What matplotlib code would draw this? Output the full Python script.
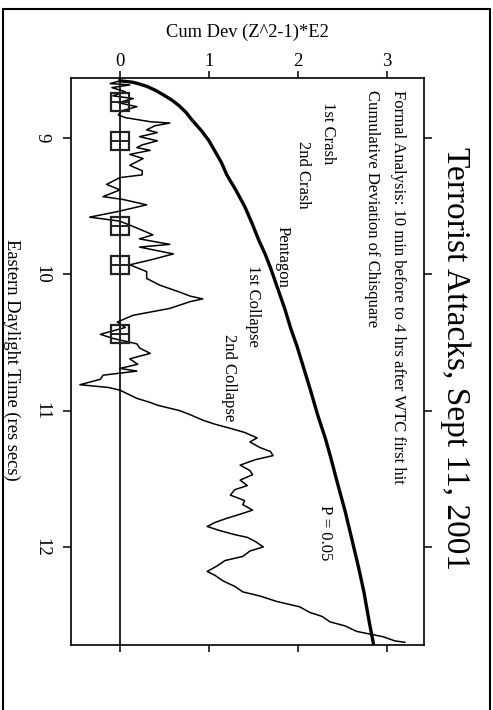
import matplotlib
matplotlib.use('Agg')
import matplotlib.pyplot as plt
from matplotlib.patches import Rectangle

plt.rcParams['font.family'] = ['Liberation Serif', 'DejaVu Serif']

# Cumulative deviation of chisquare (time in hours EDT)
trace_hours = [8.58, 8.60, 8.61, 8.63, 8.66, 8.69, 8.71, 8.74, 8.77, 8.80,
               8.83, 8.85, 8.88, 8.89, 8.91, 8.94, 8.96, 8.99, 9.02, 9.05,
               9.07, 9.09, 9.12, 9.15, 9.18, 9.20, 9.24, 9.27, 9.29, 9.34,
               9.38, 9.43, 9.45, 9.49, 9.54, 9.58, 9.61, 9.66, 9.71, 9.74,
               9.78, 9.80, 9.85, 9.89, 9.93, 9.98, 10.03, 10.08, 10.13, 10.16,
               10.18, 10.20, 10.25, 10.30, 10.35, 10.39, 10.44, 10.47, 10.51, 10.54,
               10.58, 10.62, 10.66, 10.69, 10.71, 10.74, 10.77, 10.81, 10.83, 10.85,
               10.91, 10.94, 10.96, 11.00, 11.03, 11.07, 11.10, 11.13, 11.16, 11.20,
               11.23, 11.27, 11.30, 11.33, 11.36, 11.40, 11.44, 11.47, 11.51, 11.55,
               11.58, 11.62, 11.66, 11.69, 11.73, 11.76, 11.79, 11.82, 11.85, 11.88,
               11.91, 11.93, 11.96, 12.00, 12.03, 12.07, 12.10, 12.14, 12.18, 12.21,
               12.25, 12.29, 12.33, 12.36, 12.40, 12.44, 12.48, 12.51, 12.55, 12.58,
               12.62, 12.64, 12.66, 12.69, 12.70]
trace_cumdev = [0.00, -0.11, 0.11, -0.09, 0.06, -0.08, 0.15, -0.02, 0.19, 0.02,
                -0.02, 0.06, 0.34, 0.56, 0.39, 0.30, 0.42, 0.22, 0.42, 0.25,
                0.19, 0.34, 0.11, 0.26, 0.17, 0.11, 0.25, 0.25, 0.00, -0.15,
                0.00, -0.19, 0.03, 0.30, -0.03, -0.34, 0.00, 0.19, 0.37, 0.22,
                0.56, 0.22, 0.60, 0.37, 0.11, 0.30, 0.30, 0.45, 0.67, 0.79,
                0.93, 0.79, 0.56, 0.15, -0.03, 0.06, -0.22, -0.08, 0.19, 0.22,
                0.34, 0.11, 0.20, 0.00, 0.19, -0.19, -0.22, -0.45, -0.13, 0.00,
                0.19, 0.34, 0.42, 0.67, 0.79, 0.93, 1.07, 1.24, 1.40, 1.54,
                1.46, 1.57, 1.69, 1.72, 1.52, 1.35, 1.46, 1.49, 1.35, 1.43,
                1.29, 1.24, 1.40, 1.38, 1.49, 1.35, 1.20, 1.07, 0.98, 1.12,
                1.29, 1.43, 1.52, 1.61, 1.46, 1.38, 1.18, 1.09, 0.98, 1.07,
                1.16, 1.29, 1.38, 1.57, 1.76, 2.02, 2.13, 2.27, 2.36, 2.53,
                2.66, 2.81, 2.96, 3.09, 3.20]

# P = 0.05 envelope
p05_hours = [8.58, 8.59, 8.60, 8.62, 8.65, 8.68, 8.72, 8.76, 8.81, 8.86, 8.95,
             9.02, 9.10, 9.18, 9.27, 9.38, 9.50, 9.62, 9.75, 9.85, 9.95,
             10.10, 10.25, 10.40, 10.53, 10.70, 10.85, 11.03, 11.21, 11.35, 11.50,
             11.62, 11.74, 11.93, 12.15, 12.33, 12.55, 12.72]
p05_cumdev = [0.00, 0.14, 0.20, 0.30, 0.40, 0.48, 0.58, 0.66, 0.74, 0.80, 0.92,
              1.00, 1.07, 1.14, 1.20, 1.30, 1.40, 1.48, 1.56, 1.63, 1.69,
              1.77, 1.85, 1.92, 1.99, 2.07, 2.14, 2.22, 2.31, 2.37, 2.43,
              2.48, 2.53, 2.60, 2.68, 2.74, 2.80, 2.85]

event_hours = [8.735, 9.02, 9.645, 9.93, 10.44]
event_names = ['1st Crash', '2nd Crash', 'Pentagon', '1st Collapse', '2nd Collapse']

time_ticks = [9, 10, 11, 12]
dev_ticks = [0, 1, 2, 3]

fig = plt.figure(figsize=(4.93, 7.10), dpi=100)
ax = fig.add_axes([0.144, 0.0915, 0.716, 0.7985])

ax.axvline(0, color='black', lw=1.2, zorder=1)
ax.plot(trace_cumdev, trace_hours, color='black', lw=1.1, zorder=3)
ax.plot(p05_cumdev, p05_hours, color='black', lw=2.4, zorder=3)
ax.plot([0] * len(event_hours), event_hours, linestyle='none', marker='s',
        markersize=13, markerfacecolor='none', markeredgecolor='#222222',
        markeredgewidth=1.6, zorder=4)
ax.plot([0] * len(event_hours), event_hours, linestyle='none', marker='+',
        markersize=13, markeredgecolor='#222222', markeredgewidth=1.4, zorder=4)

ax.set_xlim(-0.55, 3.415)
ax.set_ylim(12.72, 8.56)

ax.set_xticks(dev_ticks)
ax.set_xticklabels([str(v) for v in dev_ticks], fontsize=13.5)
ax.set_yticks(time_ticks)
ax.set_yticklabels([str(v) for v in time_ticks], fontsize=13.5, rotation=270,
                   va='center')
ax.tick_params(axis='x', top=True, bottom=True, labeltop=True, labelbottom=False,
               direction='out', length=5, width=1.1, pad=1)
ax.tick_params(axis='y', left=True, right=True, labelleft=True, labelright=False,
               direction='out', length=6, width=1.1, pad=9)
for s in ax.spines.values():
    s.set_linewidth(1.2)

# event labels, each starting at its event time
label_x = [2.34, 2.06, 1.83, 1.49, 1.22]
for name, t, lx in zip(event_names, event_hours, label_x):
    ax.text(lx, t, name, rotation=270, ha='center', va='top', fontsize=12)

ax.text(3.12, 8.65, 'Formal Analysis: 10 min before to 4 hrs after WTC first hit',
        rotation=270, ha='center', va='top', fontsize=12)
ax.text(2.83, 8.65, 'Cumulative Deviation of Chisquare',
        rotation=270, ha='center', va='top', fontsize=12)
ax.text(2.30, 11.69, 'P = 0.05', rotation=270, ha='center', va='top', fontsize=12)

ax.text(1.088, 0.505, 'Terrorist Attacks, Sept 11, 2001', transform=ax.transAxes,
        rotation=270, ha='center', va='center', fontsize=24)
ax.text(0.501, 1.081, 'Cum Dev (Z^2-1)*E2', transform=ax.transAxes,
        ha='center', va='center', fontsize=13.3)
ax.text(-0.167, 0.503, 'Eastern Daylight Time (res secs)', transform=ax.transAxes,
        rotation=270, ha='center', va='center', fontsize=13.3)

fig.patches.append(Rectangle((3 / 493, -0.02), 487 / 493, 1.02 - 9 / 710,
                             transform=fig.transFigure, fill=False,
                             edgecolor='black', lw=1.5))

fig.savefig('out.png', dpi=100)
